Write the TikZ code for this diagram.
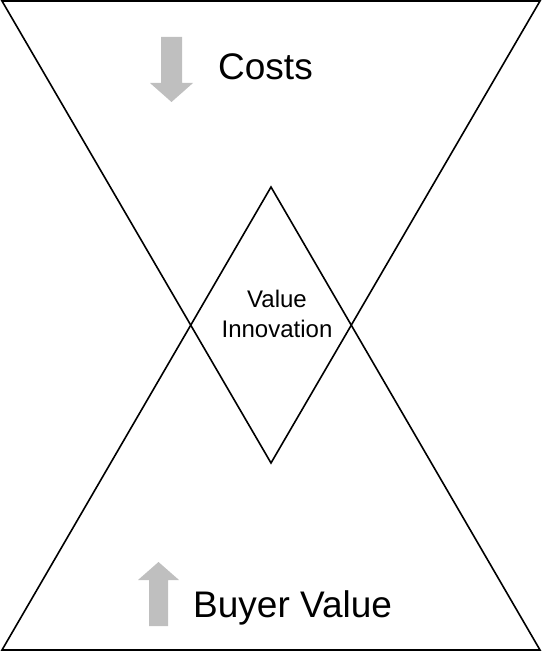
\documentclass[tikz,border=0pt]{standalone}
\usepackage{fontspec}
\setmainfont{Liberation Sans}
\usetikzlibrary{positioning}
\tikzset{
  vonal/.style={line width=1.6pt,line join=miter},
  nyil/.style={fill=black!25},
  felirat/.style={inner sep=0pt,anchor=base west,font=\fontsize{37}{40}\selectfont},
  kozep/.style={inner sep=0pt,align=center,font=\fontsize{24}{29.5}\selectfont},
}
\begin{document}
\begin{tikzpicture}[x=1pt,y=-1pt]
  \useasboundingbox (0,0) rectangle (542,652);
  % the two triangles
  \coordinate (fbal) at (2,1);
  \coordinate (fjobb) at (540,1);
  \coordinate (fcsucs) at (271,463);
  \coordinate (abal) at (2,650);
  \coordinate (ajobb) at (540,650);
  \coordinate (acsucs) at (271,187);
  \draw[vonal] (fbal) -- (fjobb) -- (fcsucs) -- cycle;
  \draw[vonal] (abal) -- (ajobb) -- (acsucs) -- cycle;
  % block arrows
  \fill[nyil] (161,37) -- (182,37) -- (182,83) -- (193,83) -- (171.5,102)
    -- (150,83) -- (161,83) -- cycle;
  \fill[nyil] (149,626) -- (168,626) -- (168,580) -- (179,580) -- (158.5,562)
    -- (138,580) -- (149,580) -- cycle;
  % labels
  \node[felirat] (koltseg) at (218,79.5) {Costs};
  \node[felirat] (ertek) at (193,617) {Buyer Value};
  \node[kozep] (innovacio) at (277,314) {Value\\Innovation};
\end{tikzpicture}
\end{document}
